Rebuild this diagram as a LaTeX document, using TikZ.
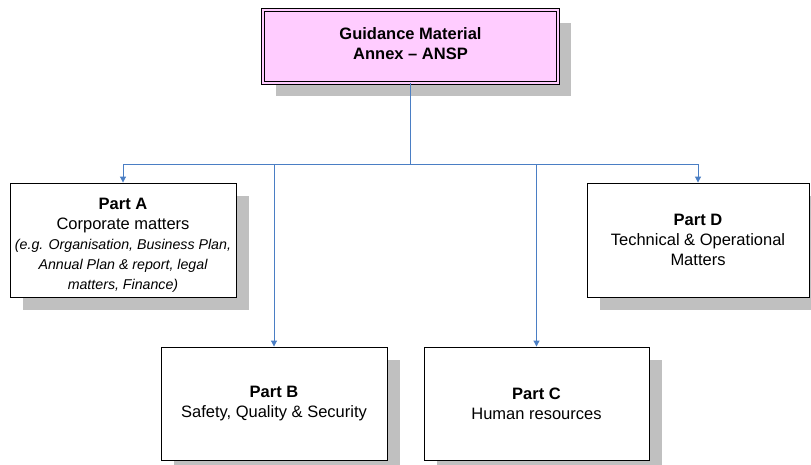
\documentclass[tikz,border=0pt]{standalone}
\usepackage{fontspec}
\setmainfont{Liberation Sans}
\usetikzlibrary{arrows.meta,shadows}
\definecolor{shadowgray}{HTML}{C0C0C0}
\definecolor{pinkfill}{HTML}{FFCCFF}
\definecolor{connblue}{HTML}{4A7EC4}
\newcommand{\smit}{\fontsize{14.2}{19}\selectfont\itshape}
\tikzset{
  partbox/.style={draw=black, line width=0.9pt, fill=white, align=center,
    font=\fontsize{16.5}{20}\selectfont,
    drop shadow={shadow xshift=12.5pt, shadow yshift=-13pt, fill=shadowgray, opacity=1}},
  topbox/.style={partbox, fill=pinkfill, double=pinkfill, double distance=2.2pt, line width=0.8pt},
  boxtext/.style={align=center, inner sep=0pt, font=\fontsize{16.5}{20}\selectfont},
  conn/.style={draw=connblue, line width=1pt},
  arr/.style={conn, -{Triangle[width=6pt,length=6pt]}}
}
\begin{document}
\begin{tikzpicture}[x=1pt,y=-1pt]
\useasboundingbox (0,0) rectangle (811,465);
\clip (0,0) rectangle (811,465);
\node[topbox, minimum width=295pt, minimum height=73pt] (top) at (410.5,46.5) {};
\node[boxtext] (toptext) at ([yshift=3pt]top.center)
  {\textbf{Guidance Material}\\\textbf{Annex -- ANSP}};
\node[partbox, minimum width=226pt, minimum height=114pt] (A) at (123,240) {};
\node[boxtext] (Atext) at ([yshift=-5pt]A.center)
  {\textbf{Part A}\\Corporate matters\\
   \smit (e.g. Organisation, Business Plan,\\\smit Annual Plan \& report, legal\\\smit matters, Finance)};
\node[partbox, minimum width=222pt, minimum height=114pt] (D) at (698,240)
  {\textbf{Part D}\\Technical \& Operational\\Matters};
\node[partbox, minimum width=226pt, minimum height=113pt] (B) at (274,403.5)
  {\textbf{Part B}\\Safety, Quality \& Security};
\node[partbox, minimum width=225pt, minimum height=113pt] (C) at (536.5,403.5)
  {\textbf{Part C}\\Human resources};
\coordinate (bus) at (0,164.5);
\draw[conn] (top.south) -- (top.south |- bus);
\draw[conn] (A.north |- bus) -- (D.north |- bus);
\draw[arr] (A.north |- bus) -- (A.north);
\draw[arr] (D.north |- bus) -- (D.north);
\draw[arr] (B.north |- bus) -- (B.north);
\draw[arr] (C.north |- bus) -- (C.north);
\end{tikzpicture}
\end{document}
